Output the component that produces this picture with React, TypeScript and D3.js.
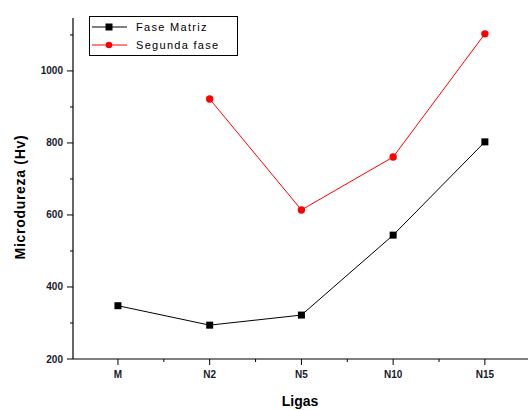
import React from "react";
import * as d3 from "d3";

const categories = ["M", "N2", "N5", "N10", "N15"];
const faseMatriz = [348, 294, 322, 544, 803];
const segundaFase: (number | null)[] = [null, 922, 614, 761, 1103];
const yTicks = [200, 400, 600, 800, 1000];
const yMinor = [300, 500, 700, 900, 1100];

export default function App() {
  const W = 529, H = 410;
  const left = 73, right = 528, top = 18, bottom = 359;
  const x = d3.scaleLinear().domain([-0.49, 4.47]).range([left, right]);
  const y = d3.scaleLinear().domain([200, 1147]).range([bottom, top]);
  const font = "'Liberation Sans', Arial, sans-serif";
  const line = d3.line<[number, number]>().x(d => x(d[0])).y(d => y(d[1]));
  const m1: [number, number][] = faseMatriz.map((v, i) => [i, v]);
  const m2: [number, number][] = segundaFase
    .map((v, i) => [i, v] as [number, number | null])
    .filter(d => d[1] != null) as [number, number][];
  const xMinor = d3.range(0, 4).map(i => i + 0.5);
  return (
    <svg width={W} height={H} style={{ position: "absolute", left: 0, top: 0, background: "#fff" }}>
      {/* axes */}
      <line x1={left} x2={left} y1={top} y2={bottom} stroke="#000" strokeWidth={1.2} />
      <line x1={left} x2={right} y1={bottom} y2={bottom} stroke="#000" strokeWidth={1.2} />
      {yTicks.map(t => (
        <g key={t}>
          <line x1={left - 6} x2={left} y1={y(t)} y2={y(t)} stroke="#000" />
          <text x={left - 10} y={y(t) + 3.5} textAnchor="end" fontFamily={font} fontWeight="bold" fontSize={10} fill="#1a1a2a">{t}</text>
        </g>
      ))}
      {yMinor.map(t => (
        <line key={t} x1={left - 3} x2={left} y1={y(t)} y2={y(t)} stroke="#000" />
      ))}
      {categories.map((c, i) => (
        <g key={c}>
          <line x1={x(i)} x2={x(i)} y1={bottom} y2={bottom + 6} stroke="#000" />
          <text x={x(i)} y={bottom + 19} textAnchor="middle" fontFamily={font} fontWeight="bold" fontSize={10} fill="#1a1a2a">{c}</text>
        </g>
      ))}
      {xMinor.map(t => (
        <line key={t} x1={x(t)} x2={x(t)} y1={bottom} y2={bottom + 3} stroke="#000" />
      ))}
      <text x={300} y={406} textAnchor="middle" fontFamily={font} fontWeight="bold" fontSize={14} fill="#000">Ligas</text>
      <text transform={`translate(25,197) rotate(-90)`} textAnchor="middle" fontFamily={font} fontWeight="bold" fontSize={14} letterSpacing={0.7} fill="#000">Microdureza (Hv)</text>
      {/* series */}
      <path d={line(m1) || ""} fill="none" stroke="#000" strokeWidth={1} />
      <path d={line(m2) || ""} fill="none" stroke="#ff0000" strokeWidth={1} />
      {m1.map((d, i) => (
        <rect key={i} x={x(d[0]) - 3.5} y={y(d[1]) - 3.5} width={7} height={7} fill="#000" />
      ))}
      {m2.map((d, i) => (
        <circle key={i} cx={x(d[0])} cy={y(d[1])} r={3.7} fill="#ff0000" />
      ))}
      {/* legend */}
      <rect x={89.5} y={16.5} width={148} height={39} fill="#fff" stroke="#000" strokeWidth={1} />
      <line x1={92} x2={127} y1={27} y2={27} stroke="#000" />
      <rect x={105.5} y={23.5} width={7} height={7} fill="#000" />
      <text x={136} y={31} fontFamily={font} fontSize={11} letterSpacing={1.3} fill="#000">Fase Matriz</text>
      <line x1={92} x2={127} y1={45} y2={45} stroke="#ff0000" />
      <circle cx={109} cy={45} r={3.3} fill="#ff0000" />
      <text x={136} y={49} fontFamily={font} fontSize={11} letterSpacing={1.3} fill="#000">Segunda fase</text>
    </svg>
  );
}
